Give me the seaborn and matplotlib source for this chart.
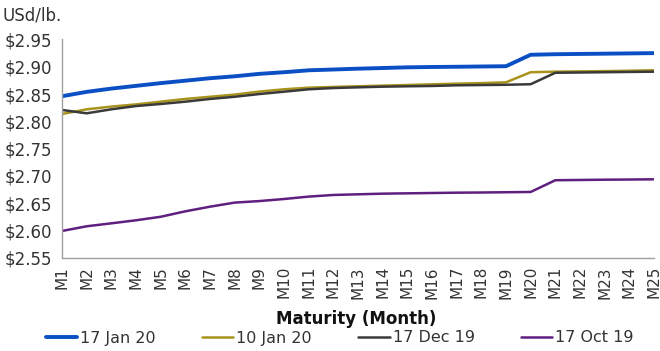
import numpy as np
import pandas as pd
import matplotlib
matplotlib.use("Agg")
import matplotlib.pyplot as plt
import seaborn as sns

months = [f"M{i}" for i in range(1, 26)]

jan17_20 = [2.846, 2.854, 2.860, 2.865, 2.870, 2.8745, 2.879, 2.8825, 2.887, 2.890,
            2.8935, 2.895, 2.8965, 2.8977, 2.899, 2.8996, 2.900, 2.9005, 2.901, 2.922,
            2.923, 2.9235, 2.924, 2.9245, 2.925]
jan10_20 = [2.8134, 2.822, 2.827, 2.831, 2.836, 2.841, 2.845, 2.849, 2.8545, 2.8587,
            2.8617, 2.863, 2.8642, 2.8654, 2.8666, 2.8678, 2.869, 2.870, 2.8715, 2.890,
            2.891, 2.8915, 2.892, 2.8927, 2.8935]
dec17_19 = [2.8208, 2.8147, 2.822, 2.828, 2.8318, 2.836, 2.841, 2.845, 2.850, 2.8543,
            2.8587, 2.861, 2.8623, 2.8635, 2.8642, 2.8648, 2.866, 2.8665, 2.867, 2.868,
            2.889, 2.8895, 2.890, 2.8905, 2.891]
oct17_19 = [2.599, 2.6076, 2.613, 2.6186, 2.625, 2.635, 2.6435, 2.651, 2.6538, 2.6576,
            2.662, 2.665, 2.6662, 2.6674, 2.668, 2.6686, 2.6692, 2.6695, 2.670, 2.6705,
            2.692, 2.6925, 2.693, 2.6933, 2.6937]

series = {
    "17 Jan 20": jan17_20,
    "10 Jan 20": jan10_20,
    "17 Dec 19": dec17_19,
    "17 Oct 19": oct17_19,
}
colors = {
    "17 Jan 20": "#0B4FC4",
    "10 Jan 20": "#A8931C",
    "17 Dec 19": "#3A3A3A",
    "17 Oct 19": "#5E1F7E",
}
widths = {"17 Jan 20": 2.8, "10 Jan 20": 1.8, "17 Dec 19": 1.8, "17 Oct 19": 1.8}

frames = []
for name, vals in series.items():
    frames.append(pd.DataFrame({"pos": np.arange(len(months)), "month": months,
                                "price": vals, "series": name}))
df = pd.concat(frames, ignore_index=True)

sns.set_style("white")
plt.rcParams["font.family"] = ["DejaVu Sans"]

fig = plt.figure(figsize=(6.6, 3.51), dpi=100)
ax = fig.add_axes([0.0939, 0.2658, 0.8970, 0.6217])

for name in series:
    sub = df[df["series"] == name]
    sns.lineplot(data=sub, x="pos", y="price", ax=ax, color=colors[name],
                 linewidth=widths[name], label=name, legend=False)

ax.set_xlim(0, len(months) - 1)
ax.set_ylim(2.55, 2.95)
yt = np.arange(2.55, 2.951, 0.05)
ax.set_yticks(yt)
ax.set_yticklabels([f"${v:.2f}" for v in yt], fontsize=12, color="#333333")
ax.set_xticks(np.arange(len(months)))
ax.set_xticklabels(months, rotation=90, fontsize=11, color="#333333")
ax.tick_params(axis="both", which="both", direction="out", length=4, width=1,
               color="#A0A0A0", pad=2)
ax.tick_params(axis="y", pad=3)
for side in ["top", "right"]:
    ax.spines[side].set_visible(False)
for side in ["left", "bottom"]:
    ax.spines[side].set_color("#A0A0A0")
    ax.spines[side].set_linewidth(1)

ax.set_xlabel("")
ax.set_ylabel("")
fig.text(0.5394, 1 - 319 / 351, "Maturity (Month)", ha="center", va="center",
         fontsize=12, fontweight="bold", color="#111111")
fig.text(3 / 660, 1 - 15 / 351, "USd/lb.", ha="left", va="center", fontsize=12,
         color="#333333")

handles, labels = ax.get_legend_handles_labels()
leg = fig.legend(handles, labels, loc="center", ncol=4,
                 bbox_to_anchor=(0.515, 1 - 338 / 351), frameon=False, fontsize=11.5,
                 handlelength=1.95, handletextpad=0.2, columnspacing=2.9)
for t in leg.get_texts():
    t.set_color("#333333")

fig.savefig("out.png", dpi=100)
